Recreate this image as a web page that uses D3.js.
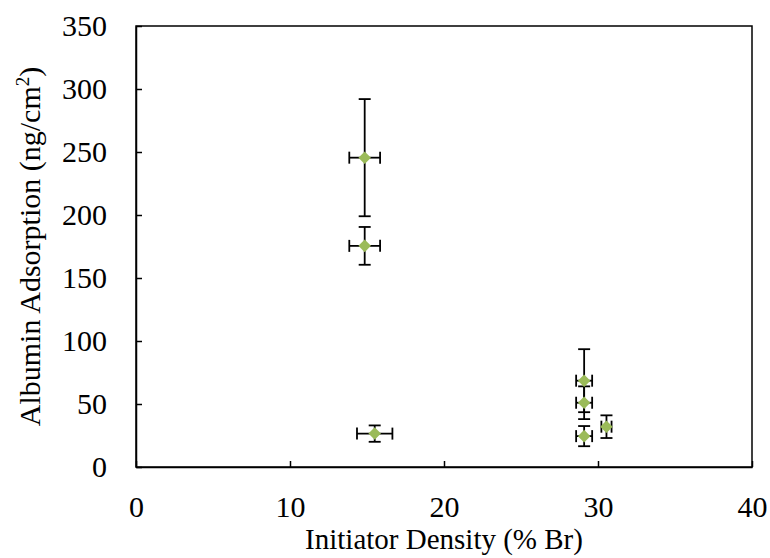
<!DOCTYPE html>
<html>
<head>
<meta charset="utf-8">
<script src="https://cdn.jsdelivr.net/npm/d3@7.9.0/dist/d3.min.js"></script>
<style>
  body { margin: 0; background: #fff; }
  svg text { font-family: "Liberation Serif", "Times New Roman", Times, Tinos, "Nimbus Roman", "DejaVu Serif", serif; fill: #000; }
</style>
</head>
<body>
<svg id="chart" width="770" height="558"></svg>
<script>
// initiator density (% Br) and albumin adsorption (ng/cm2), with error bars
const density = [14.85, 14.85, 15.5, 29.1, 29.1, 29.1, 30.55];
const densityErr = [1.0, 1.0, 1.15, 0.52, 0.52, 0.52, 0.33];
const adsorption = [245.5, 175.5, 26.5, 68.5, 51, 24.5, 32];
const adsorptionErr = [46.5, 15, 6.5, 25, 13, 8, 9];
const xTicks = [0, 10, 20, 30, 40];
const yTicks = [0, 50, 100, 150, 200, 250, 300, 350];

const svg = d3.select('#chart');
const margin = { left: 136, right: 18, top: 26, bottom: 91 };
const width = 770 - margin.left - margin.right;
const height = 558 - margin.top - margin.bottom;

const x = d3.scaleLinear().domain([0, 40]).range([0, width]);
const y = d3.scaleLinear().domain([0, 350]).range([height, 0]);

const g = svg.append('g').attr('transform', `translate(${margin.left},${margin.top})`);

// frame
g.append('rect')
  .attr('width', width).attr('height', height)
  .attr('fill', 'none').attr('stroke', '#000').attr('stroke-width', 1.5);

const xAxis = g.append('g')
  .attr('transform', `translate(0,${height})`)
  .call(d3.axisBottom(x).tickValues(xTicks).tickSizeInner(-6).tickSizeOuter(0).tickPadding(29));
const yAxis = g.append('g')
  .call(d3.axisLeft(y).tickValues(yTicks).tickSizeInner(-6).tickSizeOuter(0).tickPadding(29));

[xAxis, yAxis].forEach((a) => {
  a.attr('font-family', null);
  a.select('.domain').attr('stroke-width', 1.5);
  a.selectAll('line').attr('stroke-width', 1.5);
  a.selectAll('text').attr('font-size', 30);
});

const data = density.map((d, i) => ({
  x: d, xe: densityErr[i], y: adsorption[i], ye: adsorptionErr[i]
}));

const cap = 6;
const bars = g.append('g').attr('stroke', '#000').attr('stroke-width', 1.8);
data.forEach((d) => {
  const cx = x(d.x), cy = y(d.y);
  const y1 = y(d.y + d.ye), y2 = y(d.y - d.ye);
  const x1 = x(d.x - d.xe), x2 = x(d.x + d.xe);
  bars.append('line').attr('x1', cx).attr('x2', cx).attr('y1', y1).attr('y2', y2);
  bars.append('line').attr('x1', cx - cap).attr('x2', cx + cap).attr('y1', y1).attr('y2', y1);
  bars.append('line').attr('x1', cx - cap).attr('x2', cx + cap).attr('y1', y2).attr('y2', y2);
  bars.append('line').attr('x1', x1).attr('x2', x2).attr('y1', cy).attr('y2', cy);
  bars.append('line').attr('x1', x1).attr('x2', x1).attr('y1', cy - cap).attr('y2', cy + cap);
  bars.append('line').attr('x1', x2).attr('x2', x2).attr('y1', cy - cap).attr('y2', cy + cap);
});

g.selectAll('path.pt')
  .data(data)
  .join('path')
  .attr('class', 'pt')
  .attr('d', d3.symbol().type(d3.symbolDiamond2).size(100))
  .attr('transform', (d) => `translate(${x(d.x)},${y(d.y)})`)
  .attr('fill', '#9bbb59');

svg.append('text')
  .attr('x', margin.left + width / 2).attr('y', 549)
  .attr('text-anchor', 'middle').attr('font-size', 29)
  .text('Initiator Density (% Br)');

const yt = svg.append('text')
  .attr('transform', `translate(40,${margin.top + height / 2}) rotate(-90)`)
  .attr('text-anchor', 'middle').attr('font-size', 30);
yt.append('tspan').text('Albumin Adsorption (ng/cm');
yt.append('tspan').attr('font-size', 19).attr('dy', -11).text('2');
yt.append('tspan').attr('dy', 11).text(')');
</script>
</body>
</html>
